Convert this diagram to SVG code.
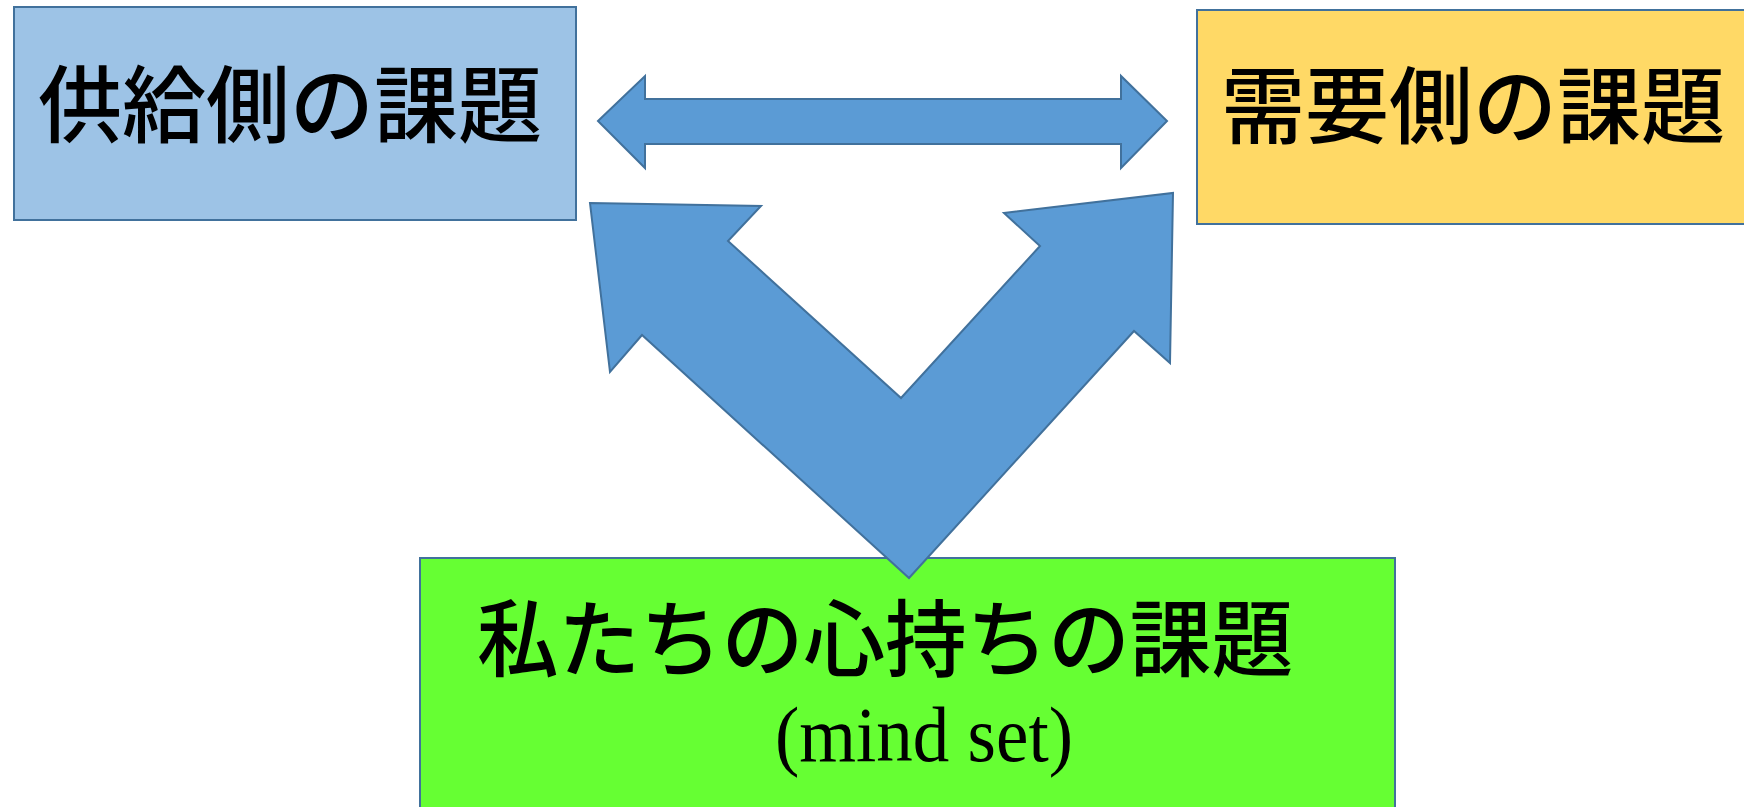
<svg xmlns="http://www.w3.org/2000/svg" width="1744" height="807" viewBox="0 0 1744 807">
<style>
.box{stroke:#41719C;stroke-width:2}
.arrow{fill:#5B9BD5;stroke:#41719C;stroke-width:2;stroke-linejoin:miter}
.jp{font-family:"Noto Sans CJK JP","Noto Sans CJK SC",sans-serif;font-weight:500;fill:#000;text-anchor:middle}
.en{font-family:"Liberation Serif",serif;fill:#000;text-anchor:middle}
</style>
<rect width="1744" height="807" fill="#fff"/>
<g id="supply">
<rect class="box" x="14" y="7" width="562" height="213" fill="#9DC3E6"/>
<text class="jp" x="290" y="136" font-size="84">供給側の課題</text>
</g>
<g id="demand">
<rect class="box" x="1197" y="10" width="560" height="214" fill="#FFD966"/>
<text class="jp" x="1473" y="137" font-size="84">需要側の課題</text>
</g>
<g id="mindset">
<rect class="box" x="420" y="558" width="975" height="260" fill="#66FF33"/>
<text class="jp" x="885" y="670" font-size="84" textLength="816" lengthAdjust="spacingAndGlyphs">私たちの心持ちの課題</text>
<text class="en" x="924" y="761" font-size="78" textLength="298" lengthAdjust="spacingAndGlyphs">(mind set)</text>
</g>
<g id="connectors">
<polygon class="arrow" points="598,121 645,76 645,99 1121,99 1121,76 1167,121 1121,168 1121,144 645,144 645,168"/>
<polygon class="arrow" points="590,203 761,206 728,241 901,398 1040,246 1004,213 1173,193 1170,363 1134,331 909,578 642,335 610,372"/>
</g>
</svg>
